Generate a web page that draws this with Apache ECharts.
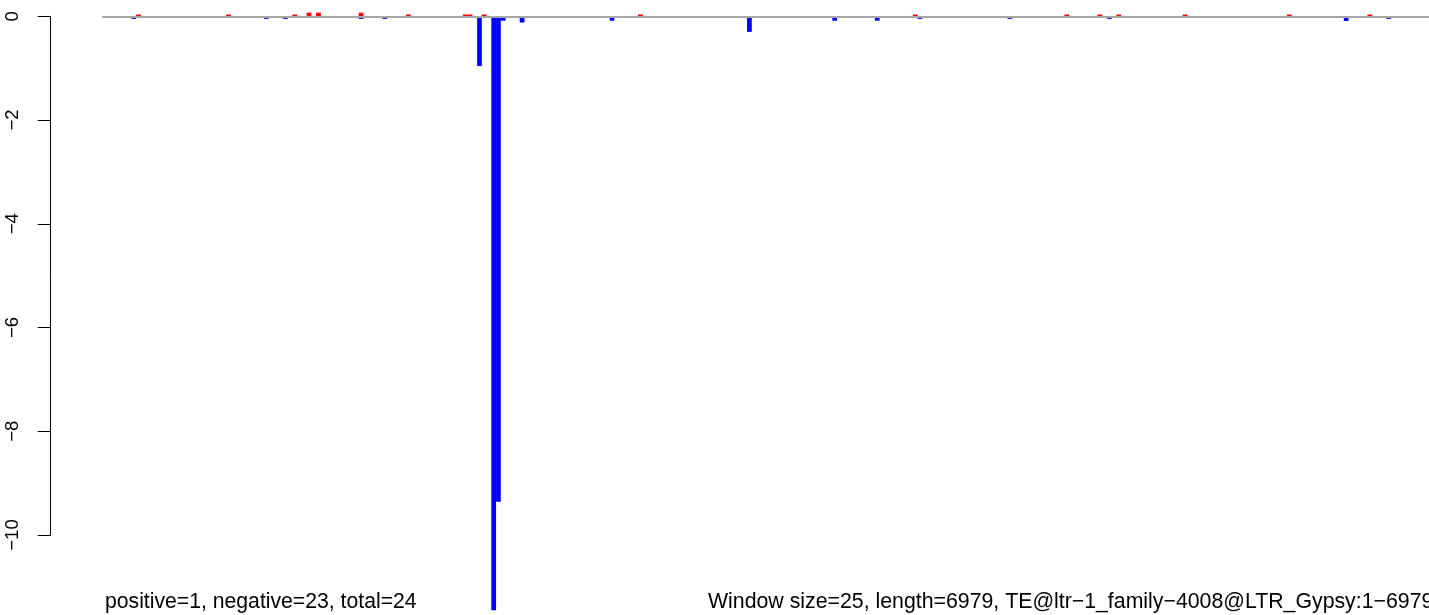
<!DOCTYPE html>
<html>
<head>
<meta charset="utf-8">
<script src="https://cdn.jsdelivr.net/npm/echarts@6/dist/echarts.min.js"></script>
<style>html,body{margin:0;padding:0;background:#fff;}#c{width:1429px;height:615px;}</style>
</head>
<body>
<div id="c"></div>
<script>
// ---- data ----
const windowSize = 25;
const seqLength = 6979;
// windows (0-based) with positive (red) values
const posWindows = [7, 26, 40, 43, 45, 54, 64, 76, 77, 80, 113, 171, 203, 210, 214, 228, 250, 267];
const posValues  = [0.035, 0.035, 0.035, 0.07, 0.07, 0.07, 0.035, 0.035, 0.035, 0.035, 0.035, 0.035, 0.035, 0.035, 0.035, 0.035, 0.035, 0.035];
// windows (0-based) with negative (blue) values
const negWindows = [6, 34, 38, 54, 59, 79, 82, 83, 84, 88, 107, 136, 154, 163, 172, 191, 212, 262, 271];
const negValues  = [-0.05, -0.05, -0.05, -0.05, -0.05, -0.96, -11.45, -9.36, -0.085, -0.12, -0.085, -0.30, -0.085, -0.085, -0.05, -0.05, -0.05, -0.09, -0.05];
const yTicks = [0, -2, -4, -6, -8, -10];
const leftText = "positive=1, negative=23, total=24";
const rightText = "Window size=25, length=6979, TE@ltr\u22121_family\u22124008@LTR_Gypsy:1\u22126979";

// ---- build category axis & dense series ----
const nWin = Math.ceil(seqLength / windowSize);
const categories = [];
for (let i = 0; i < nWin; i++) categories.push(String(i * windowSize + 1));
const posData = new Array(nWin).fill(0);
const negData = new Array(nWin).fill(0);
posWindows.forEach((w, k) => { posData[w] = posValues[k]; });
negWindows.forEach((w, k) => { negData[w] = negValues[k]; });

const FONT = "'Liberation Sans', Arial, Helvetica, sans-serif";
const pxPerUnit = 51.87;
const zeroY = 16.3;
const yMin = -11.5, yMax = 0.3;

const chart = echarts.init(document.getElementById('c'), null, {renderer: 'canvas'});
chart.setOption({
  animation: false,
  backgroundColor: '#ffffff',
  grid: [
    {left: 103, top: zeroY - yMax * pxPerUnit, width: 1328.6, height: (yMax - yMin) * pxPerUnit, containLabel: false},
    {left: 50.7, top: zeroY, width: 1, height: 10 * pxPerUnit, containLabel: false}
  ],
  xAxis: [
    {type: 'category', gridIndex: 0, data: categories, boundaryGap: true, z: 10,
     axisLine: {show: true, onZero: true, lineStyle: {color: '#a6a6a6', width: 2}},
     axisTick: {show: false}, axisLabel: {show: false}, splitLine: {show: false}},
    {type: 'value', gridIndex: 1, show: false}
  ],
  yAxis: [
    {type: 'value', gridIndex: 0, min: yMin, max: yMax, show: false, splitLine: {show: false}},
    {type: 'value', gridIndex: 1, min: -10, max: 0, interval: 2, position: 'left',
     axisLine: {show: true, lineStyle: {color: '#000', width: 1}},
     axisTick: {show: true, length: 13, inside: false, lineStyle: {color: '#000', width: 1}},
     splitLine: {show: false},
     axisLabel: {show: true, rotate: 90, margin: 28, color: '#000', fontSize: 18.5, fontFamily: FONT,
       formatter: v => (v === 0 ? '0' : '\u2212' + Math.abs(v))}}
  ],
  series: [
    {type: 'bar', xAxisIndex: 0, yAxisIndex: 0, data: posData, barWidth: '100%', barGap: '-100%',
     itemStyle: {color: '#ff0000'}, silent: true},
    {type: 'bar', xAxisIndex: 0, yAxisIndex: 0, data: negData, barWidth: '100%', barGap: '-100%',
     itemStyle: {color: '#0000ff'}, silent: true}
  ],
  graphic: [
    {type: 'text', left: 105, top: 592, z: 100,
     style: {text: leftText, font: '21.2px ' + FONT, fill: '#000'}},
    {type: 'text', x: 708, y: 592, z: 100,
     style: {text: rightText, font: '21.3px ' + FONT, fill: '#000'}}
  ]
});
</script>
</body>
</html>
